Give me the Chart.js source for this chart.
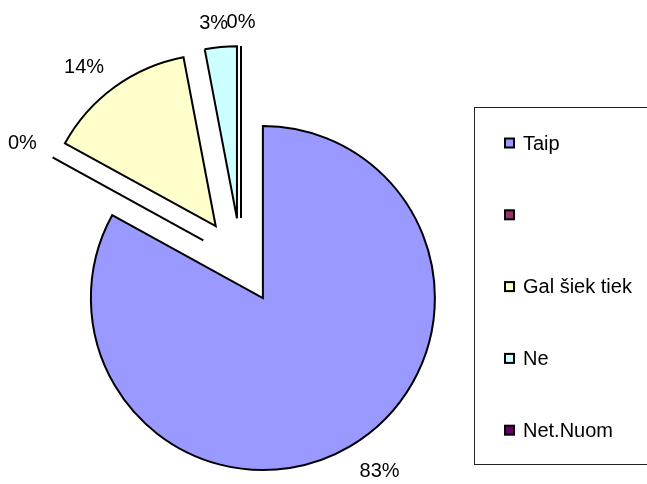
<!DOCTYPE html>
<html>
<head>
<meta charset="utf-8">
<script src="https://cdn.jsdelivr.net/npm/chart.js@4"></script>
<style>
  html, body { margin: 0; padding: 0; background: #fff; }
  #wrap { width: 647px; height: 484px; position: relative; }
</style>
</head>
<body>
<div id="wrap"><canvas id="pie"></canvas></div>
<script>
; (function() {

	// data
	const labels = ['Taip', '', 'Gal šiek tiek', 'Ne', 'Net.Nuom'];
	const values = [83, 0, 14, 3, 0];
	const colors = ['#9999FF', '#993366', '#FFFFCC', '#CCFFFF', '#660066'];

	const RADIUS = 172;
	const EXPLODE = 43;    // px each slice is pulled out along its middle angle
	const FONT = '20px "Liberation Sans", Arial, sans-serif';

	// pull every slice out from the centre (excel style exploded pie)
	const explode = {
		id: 'explode',
		afterDatasetsUpdate(chart) {
			const meta = chart.getDatasetMeta(0);
			meta.data.forEach(arc => {
				const mid = (arc.startAngle + arc.endAngle) / 2;
				arc.x = arc.x + Math.cos(mid) * EXPLODE;
				arc.y = arc.y + Math.sin(mid) * EXPLODE;
			});
		}
	};

	// zero slices as a single radius line + percent labels
	const sliceExtras = {
		id: 'sliceExtras',
		afterDatasetsDraw(chart) {
			const ctx = chart.ctx;
			const meta = chart.getDatasetMeta(0);
			const data = chart.data.datasets[0].data;
			const total = data.reduce((a, b) => a + b, 0);
			ctx.save();
			meta.data.forEach((arc, i) => {
				const mid = (arc.startAngle + arc.endAngle) / 2;
				const dx = Math.cos(mid), dy = Math.sin(mid);
				if (data[i] === 0) {
					ctx.beginPath();
					ctx.moveTo(arc.x, arc.y);
					ctx.lineTo(arc.x + dx * arc.outerRadius, arc.y + dy * arc.outerRadius);
					ctx.lineWidth = 2;
					ctx.strokeStyle = '#000';
					ctx.stroke();
				}
				const txt = Math.round(data[i] / total * 100) + '%';
				ctx.font = FONT;
				const w = ctx.measureText(txt).width, h = 15;
				const r = arc.outerRadius + 18;
				const sx = Math.max(-1, Math.min(1, dx * 4));
				const sy = Math.max(-1, Math.min(1, dy * 4));
				const tx = arc.x + dx * r + sx * w / 2;
				const ty = arc.y + dy * r + sy * h / 2 + 2;
				ctx.fillStyle = '#000';
				ctx.textAlign = 'center';
				ctx.textBaseline = 'middle';
				ctx.fillText(txt, tx, ty);
			});
			ctx.restore();
		}
	};

	// framed legend on the right
	const boxLegend = {
		id: 'boxLegend',
		afterDraw(chart) {
			const ctx = chart.ctx;
			const ds = chart.data.datasets[0];
			ctx.save();
			ctx.lineWidth = 1;
			ctx.strokeStyle = '#222';
			ctx.strokeRect(474.5, 107.5, 200, 357);
			ctx.font = FONT;
			ctx.textBaseline = 'middle';
			ctx.textAlign = 'left';
			chart.data.labels.forEach((lab, i) => {
				const cy = 143 + i * 71.8;
				ctx.fillStyle = ds.backgroundColor[i];
				ctx.fillRect(505, cy - 4.5, 9, 9);
				ctx.lineWidth = 2;
				ctx.strokeStyle = '#000';
				ctx.strokeRect(505, cy - 4.5, 9, 9);
				ctx.fillStyle = '#000';
				ctx.fillText(lab, 523, cy + 1);
			});
			ctx.restore();
		}
	};

	const pieCtx = document.getElementById('pie');
	let chart = new Chart(pieCtx, {
		type: 'pie',
		data: {
			labels: labels,
			datasets: [
				{
					data: values,
					backgroundColor: colors,
					borderColor: '#000',
					borderWidth: 2,
					borderJoinStyle: 'miter',
					radius: RADIUS,
				},
			],
		},
		options: {
			responsive: true,
			maintainAspectRatio: false,
			animation: false,
			events: [],
			layout: { padding: { left: 0, right: 165, top: 38, bottom: 0 } },
			plugins: {
				legend: { display: false },
				tooltip: { enabled: false },
			},
		},
		plugins: [explode, sliceExtras, boxLegend],
	});
})()
</script>
</body>
</html>
